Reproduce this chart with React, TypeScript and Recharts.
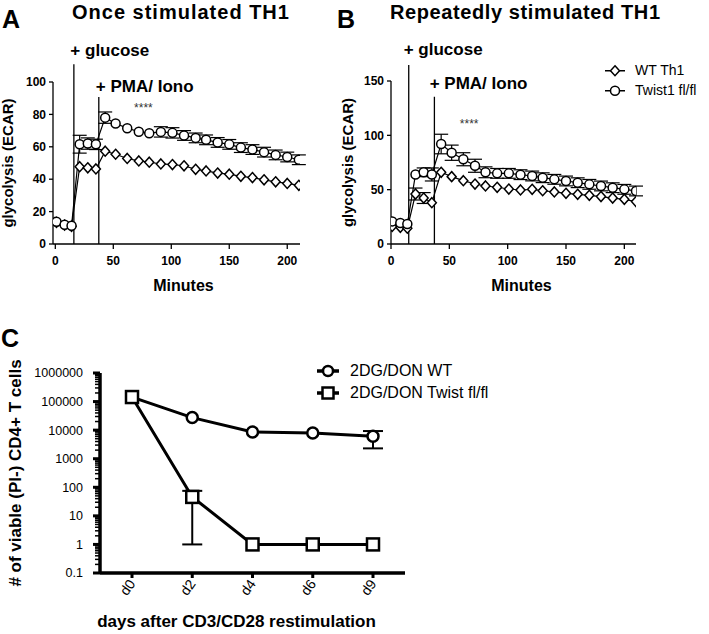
import React from 'react';
import { LineChart, Line, XAxis, YAxis, ErrorBar, ReferenceLine, ReferenceDot, Label, Legend } from 'recharts';

// panels A and B: sampling times (minutes)
const minutes = [1, 8, 14, 21, 28, 35, 43, 52, 62, 72, 81, 91, 101, 111, 121, 130, 140, 150, 160, 170, 180, 190, 200, 210];

// A: once stimulated TH1 (errors smaller than the marker are left out)
const onceWT = [13.3, 11.7, 10.9, 47.7, 47, 46.3, 57.3, 55.4, 52.8, 51.3, 50.5, 49.4, 49, 48.3, 46.1, 45.1, 43.8, 43.1, 41.8, 41, 39.6, 38.4, 37.4, 36.2];
const onceWTErr = [null, null, null, null, null, null, null, null, null, null, null, null, null, null, null, null, null, null, null, null, null, null, null, null];
const onceTwist = [13.7, 11.9, 11.3, 61.6, 62, 61.5, 78, 74.4, 71.5, 69.3, 68.4, 69.2, 68.6, 67, 65.5, 64.3, 62.7, 61.5, 59.5, 58.3, 56.7, 55, 53.7, 52];
const onceTwistErr = [null, null, null, 5.5, 3.5, 3.2, 3.5, null, null, null, null, 3.2, 3.2, 3, 3, 3, 3, 3, 3, 3, 3, 3, 3, 3];

// B: repeatedly stimulated TH1
const repWT = [16.2, 15.3, 14.5, 46, 42.3, 38, 66, 62, 58.3, 55.2, 53.4, 52.2, 50.6, 49.7, 50.3, 49, 47.9, 46.6, 45.7, 44.8, 43.6, 42.3, 41.1, 39];
const repWTErr = [null, null, null, 5.5, 5, null, null, null, null, null, null, null, null, null, null, null, null, null, null, null, null, null, null, null];
const repTwist = [20.8, 19.3, 18.4, 64, 66, 64, 92, 84, 78, 72, 66, 65, 65, 63.8, 62.6, 61, 59.5, 58, 56.4, 54.9, 53.4, 51.8, 50.3, 48.8];
const repTwistErr = [null, null, null, null, 4, 6, 9, 7, 6, 6, 5, 4.5, 4.5, 4.5, 4.5, 4.5, 4.5, 4.5, 4.5, 4.5, 4.5, 4.5, 4.5, 4.5];

// C: viable cells after restimulation
const days = ['d0', 'd2', 'd4', 'd6', 'd9'];
const wtCells = [144000, 27500, 8600, 7900, 6100];
const wtCellsErr = [null, null, null, null, [3800, 3200]];
const twistCells = [144000, 46, 1, 1, 1];
const twistCellsErr = [null, [45, 29], null, null, null];

const minuteTicks = [0, 50, 100, 150, 200];
const decades = [0.1, 1, 10, 100, 1000, 10000, 100000, 1000000];
const logTicks: number[] = [];
decades.forEach((d, i) => {
  logTicks.push(d);
  if (i < decades.length - 1) [2, 3, 4, 5, 6, 7, 8, 9].forEach((m) => logTicks.push(+(d * m).toPrecision(3)));
});

const onceData = minutes.map((t, i) => ({ t, wt: onceWT[i], wtErr: onceWTErr[i], twist: onceTwist[i], twistErr: onceTwistErr[i] }));
const repData = minutes.map((t, i) => ({ t, wt: repWT[i], wtErr: repWTErr[i], twist: repTwist[i], twistErr: repTwistErr[i] }));
const cellData = days.map((day, i) => ({ day, wt: wtCells[i], wtErr: wtCellsErr[i], twist: twistCells[i], twistErr: twistCellsErr[i] }));

const diamondDot = (h: number, sw: number) => (props: any) => {
  const { cx, cy, index } = props;
  if (cx == null || cy == null) return <g key={index} />;
  return (
    <path key={index} d={`M${cx},${cy - h}L${cx + h * 0.9},${cy}L${cx},${cy + h}L${cx - h * 0.9},${cy}Z`}
      fill="#fff" stroke="#000" strokeWidth={sw} />
  );
};

const circleDot = (r: number, sw: number) => (props: any) => {
  const { cx, cy, index } = props;
  if (cx == null || cy == null) return <g key={index} />;
  return <circle key={index} cx={cx} cy={cy} r={r} fill="#fff" stroke="#000" strokeWidth={sw} />;
};

const squareDot = (s: number, sw: number) => (props: any) => {
  const { cx, cy, index } = props;
  if (cx == null || cy == null) return <g key={index} />;
  return <rect key={index} x={cx - s / 2} y={cy - s / 2} width={s} height={s} fill="#fff" stroke="#000" strokeWidth={sw} />;
};

const boldTick = { fontSize: 12, fontWeight: 'bold', fill: '#000' };
const textLabel = { fontSize: 17, fontWeight: 'bold', fill: '#000' };

const DayTick = ({ x, y, payload }: any) => (
  <g transform={`translate(${x},${y})`}>
    <text transform="rotate(-55)" textAnchor="end" dy="0.35em" fontSize={14} fill="#000">{payload.value}</text>
  </g>
);

// log axis: long tick + label on decades, short tick on the rest
const LogTick = ({ x, y, payload }: any) => {
  const major = decades.includes(payload.value);
  const axisX = x + 17;
  return (
    <g>
      <line x1={axisX - (major ? 7 : 5)} x2={axisX} y1={y} y2={y} stroke="#000" strokeWidth={major ? 3 : 1.5} />
      {major && (
        <text x={x} y={y} dy="0.35em" textAnchor="end" fontSize={12.5} fill="#000">{String(payload.value)}</text>
      )}
    </g>
  );
};

const ecarLegend = () => (
  <div style={{ fontSize: 14, color: '#000', lineHeight: '19.5px' }}>
    <div style={{ display: 'flex', alignItems: 'center' }}>
      <svg width={24} height={19.5}>
        <line x1={2} x2={22} y1={9.75} y2={9.75} stroke="#000" strokeWidth={1.5} />
        <path d="M12,4.75L16.5,9.75L12,14.75L7.5,9.75Z" fill="#fff" stroke="#000" strokeWidth={1.5} />
      </svg>
      <span style={{ marginLeft: 8 }}>WT Th1</span>
    </div>
    <div style={{ display: 'flex', alignItems: 'center' }}>
      <svg width={24} height={19.5}>
        <line x1={2} x2={22} y1={9.75} y2={9.75} stroke="#000" strokeWidth={1.5} />
        <circle cx={12} cy={9.75} r={4.5} fill="#fff" stroke="#000" strokeWidth={1.5} />
      </svg>
      <span style={{ marginLeft: 8 }}>Twist1 fl/fl</span>
    </div>
  </div>
);

const cellLegend = () => (
  <div style={{ fontSize: 16, color: '#000', lineHeight: '22px' }}>
    <div style={{ display: 'flex', alignItems: 'center' }}>
      <svg width={26} height={22}>
        <line x1={2} x2={24} y1={11} y2={11} stroke="#000" strokeWidth={3.5} />
        <circle cx={13} cy={11} r={5} fill="#fff" stroke="#000" strokeWidth={2.5} />
      </svg>
      <span style={{ marginLeft: 9 }}>2DG/DON WT</span>
    </div>
    <div style={{ display: 'flex', alignItems: 'center' }}>
      <svg width={26} height={22}>
        <line x1={2} x2={24} y1={11} y2={11} stroke="#000" strokeWidth={3.5} />
        <rect x={7.5} y={5.5} width={11} height={11} fill="#fff" stroke="#000" strokeWidth={2.5} />
      </svg>
      <span style={{ marginLeft: 9 }}>2DG/DON Twist fl/fl</span>
    </div>
  </div>
);

// error bars go on stroke-less copies drawn first, so the markers sit on top
const errorLines = (width: number, sw: number) => [
  <Line key="wtErr" dataKey="wt" stroke="none" dot={false} activeDot={false} legendType="none" isAnimationActive={false}>
    <ErrorBar dataKey="wtErr" direction="y" width={width} stroke="#000" strokeWidth={sw} />
  </Line>,
  <Line key="twistErr" dataKey="twist" stroke="none" dot={false} activeDot={false} legendType="none" isAnimationActive={false}>
    <ErrorBar dataKey="twistErr" direction="y" width={width} stroke="#000" strokeWidth={sw} />
  </Line>,
];

export default function App() {
  return (
    <div style={{ position: 'absolute', left: 0, top: 0, width: 709, height: 634, background: '#fff', fontFamily: '"Liberation Sans", Arial, sans-serif' }}>
      {/* A */}
      <div style={{ position: 'absolute', left: 0, top: 0 }}>
        <LineChart width={340} height={300} data={onceData} margin={{ top: 82, right: 40, bottom: 0, left: 0 }}>
          <XAxis dataKey="t" type="number" domain={[-2, 211]} ticks={minuteTicks} allowDataOverflow height={56}
            tick={boldTick} tickSize={5} tickMargin={7} axisLine={{ stroke: '#000', strokeWidth: 1.3 }} tickLine={{ stroke: '#000', strokeWidth: 1.3 }}>
            <Label value="Minutes" position="insideBottom" offset={9} dx={7} fontSize={16} fontWeight="bold" fill="#000" />
          </XAxis>
          <YAxis type="number" domain={[0, 100]} ticks={[0, 20, 40, 60, 80, 100]} allowDataOverflow width={53}
            tick={boldTick} tickSize={4} tickMargin={3} axisLine={{ stroke: '#000', strokeWidth: 1.3 }} tickLine={{ stroke: '#000', strokeWidth: 1.3 }}>
            <Label value="glycolysis (ECAR)" angle={-90} position="insideLeft" offset={8} style={{ textAnchor: 'middle' }} fontSize={15} fontWeight="bold" fill="#000" />
          </YAxis>
          <ReferenceLine segment={[{ x: 16, y: 0 }, { x: 16, y: 111 }]} stroke="#000" strokeWidth={1.3} ifOverflow="visible" />
          <ReferenceLine segment={[{ x: 37.5, y: 0 }, { x: 37.5, y: 90.7 }]} stroke="#000" strokeWidth={1.3} ifOverflow="visible" />
          <ReferenceDot x={16} y={119.5} r={0} ifOverflow="visible" label={{ value: '+ glucose', position: 'right', offset: -3.5, ...textLabel }} />
          <ReferenceDot x={37.5} y={97.3} r={0} ifOverflow="visible" label={{ value: '+ PMA/ Iono', position: 'right', offset: -3, ...textLabel }} />
          <ReferenceDot x={76} y={84} r={0} ifOverflow="visible" label={{ value: '****', position: 'center', fontSize: 12, fill: '#333' }} />
          {errorLines(7, 1.2)}
          <Line dataKey="wt" type="linear" stroke="#000" strokeWidth={1.2} dot={diamondDot(5, 1.5)} activeDot={false} isAnimationActive={false} />
          <Line dataKey="twist" type="linear" stroke="#000" strokeWidth={1.2} dot={circleDot(4.5, 1.5)} activeDot={false} isAnimationActive={false} />
        </LineChart>
      </div>

      {/* B */}
      <div style={{ position: 'absolute', left: 340, top: 0 }}>
        <LineChart width={369} height={300} data={repData} margin={{ top: 81, right: 73, bottom: 0, left: 0 }}>
          <XAxis dataKey="t" type="number" domain={[0, 210]} ticks={minuteTicks} allowDataOverflow height={56}
            tick={boldTick} tickSize={5} tickMargin={7} axisLine={{ stroke: '#000', strokeWidth: 1.3 }} tickLine={{ stroke: '#000', strokeWidth: 1.3 }}>
            <Label value="Minutes" position="insideBottom" offset={9} dx={8} fontSize={16} fontWeight="bold" fill="#000" />
          </XAxis>
          <YAxis type="number" domain={[0, 150]} ticks={[0, 50, 100, 150]} allowDataOverflow width={51}
            tick={boldTick} tickSize={4} tickMargin={3} axisLine={{ stroke: '#000', strokeWidth: 1.3 }} tickLine={{ stroke: '#000', strokeWidth: 1.3 }}>
            <Label value="glycolysis (ECAR)" angle={-90} position="insideLeft" offset={8} style={{ textAnchor: 'middle' }} fontSize={15} fontWeight="bold" fill="#000" />
          </YAxis>
          <ReferenceLine segment={[{ x: 15.2, y: 0 }, { x: 15.2, y: 164.7 }]} stroke="#000" strokeWidth={1.3} ifOverflow="visible" />
          <ReferenceLine segment={[{ x: 37.2, y: 0 }, { x: 37.2, y: 135.5 }]} stroke="#000" strokeWidth={1.3} ifOverflow="visible" />
          <ReferenceDot x={15.2} y={179.2} r={0} ifOverflow="visible" label={{ value: '+ glucose', position: 'right', offset: -5, ...textLabel }} />
          <ReferenceDot x={37.2} y={148.4} r={0} ifOverflow="visible" label={{ value: '+ PMA/ Iono', position: 'right', offset: -4.7, ...textLabel }} />
          <ReferenceDot x={67} y={110.4} r={0} ifOverflow="visible" label={{ value: '****', position: 'center', fontSize: 12, fill: '#333' }} />
          <Legend content={ecarLegend} layout="horizontal" verticalAlign="middle" align="center"
            wrapperStyle={{ left: 263, top: 61, width: 'auto', height: 'auto' }} />
          {errorLines(7, 1.2)}
          <Line dataKey="wt" type="linear" stroke="#000" strokeWidth={1.2} dot={diamondDot(5, 1.5)} activeDot={false} isAnimationActive={false} />
          <Line dataKey="twist" type="linear" stroke="#000" strokeWidth={1.2} dot={circleDot(4.5, 1.5)} activeDot={false} isAnimationActive={false} />
        </LineChart>
      </div>

      {/* C */}
      <div style={{ position: 'absolute', left: 0, top: 300 }}>
        <LineChart width={420} height={334} data={cellData} margin={{ top: 73, right: 15, bottom: 0, left: 0 }}>
          <XAxis dataKey="day" type="category" padding={{ left: 32, right: 32 }} height={61}
            tick={<DayTick />} tickSize={5} tickMargin={3} axisLine={{ stroke: '#000', strokeWidth: 3.5 }} tickLine={{ stroke: '#000', strokeWidth: 3 }}>
            <Label value="days after CD3/CD28 restimulation" position="insideBottom" offset={7} dx={-16} fontSize={17} fontWeight="bold" fill="#000" />
          </XAxis>
          <YAxis type="number" scale="log" domain={[0.1, 1000000]} ticks={logTicks} interval={0} allowDataOverflow width={100}
            tick={<LogTick />} tickSize={5} tickMargin={12} axisLine={{ stroke: '#000', strokeWidth: 3.5 }} tickLine={false}>
            <Label value="# of viable (PI-) CD4+ T cells" angle={-90} position="insideLeft" offset={15} style={{ textAnchor: 'middle' }} fontSize={17} fontWeight="bold" fill="#000" />
          </YAxis>
          <Legend content={cellLegend} layout="horizontal" verticalAlign="middle" align="center"
            wrapperStyle={{ left: 315, top: 60, width: 'auto', height: 'auto', whiteSpace: 'nowrap' }} />
          {errorLines(10, 2)}
          <Line dataKey="wt" type="linear" stroke="#000" strokeWidth={3} dot={circleDot(5.5, 2.5)} activeDot={false} isAnimationActive={false} />
          <Line dataKey="twist" type="linear" stroke="#000" strokeWidth={3} dot={squareDot(12, 2.5)} activeDot={false} isAnimationActive={false} />
        </LineChart>
      </div>

      {/* panel letters and titles */}
      <svg width={709} height={634} style={{ position: 'absolute', left: 0, top: 0, pointerEvents: 'none' }}>
        <text x={2} y={27.5} fontSize={25} fontWeight="bold" fill="#000">A</text>
        <text x={72} y={18.5} fontSize={20} fontWeight="bold" letterSpacing={1} fill="#000">Once stimulated TH1</text>
        <text x={337} y={27.5} fontSize={25} fontWeight="bold" fill="#000">B</text>
        <text x={390} y={18.5} fontSize={20} fontWeight="bold" letterSpacing={0.6} fill="#000">Repeatedly stimulated TH1</text>
        <text x={1} y={346.5} fontSize={25} fontWeight="bold" fill="#000">C</text>
      </svg>
    </div>
  );
}
